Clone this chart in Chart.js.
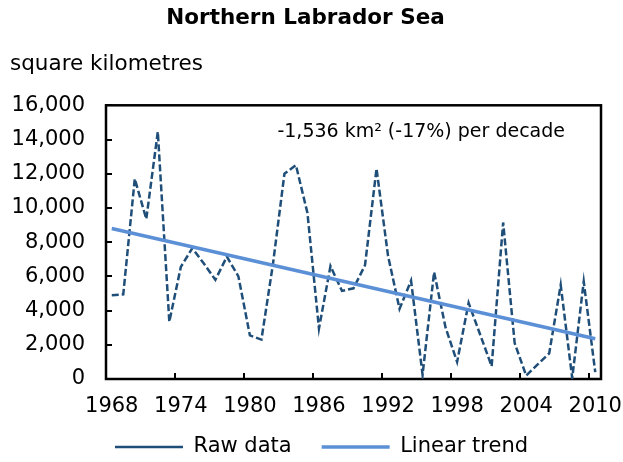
<!DOCTYPE html>
<html>
<head>
<meta charset="utf-8">
<title>Northern Labrador Sea</title>
<script src="https://cdn.jsdelivr.net/npm/chart.js@4/dist/chart.umd.min.js"></script>
<style>
  body { margin: 0; background: #fff; }
  #chart { display: block; }
</style>
</head>
<body>
<canvas id="chart" width="623" height="462"></canvas>
<script>
// valeurs
const years = [1968, 1969, 1970, 1971, 1972, 1973, 1974, 1975, 1976, 1977,
  1978, 1979, 1980, 1981, 1982, 1983, 1984, 1985, 1986, 1987,
  1988, 1989, 1990, 1991, 1992, 1993, 1994, 1995, 1996, 1997,
  1998, 1999, 2000, 2001, 2002, 2003, 2004, 2005, 2006, 2007,
  2008, 2009, 2010];
const rawData = [4900, 4950, 11700, 9350, 14450, 3350, 6550, 7650, 6750, 5800,
  7150, 6000, 2550, 2300, 6700, 12000, 12500, 9700, 2950, 6600,
  5150, 5300, 6650, 12300, 7200, 4100, 5750, 250, 6250, 3000,
  1000, 4450, 2600, 750, 9150, 2100, 200, 850, 1500, 5500,
  50, 5700, 400];
const trendStart = 8800;   // 1968
const trendEnd = 2350;     // 2010
const yMin = 0, yMax = 16000, yStep = 2000;
const labelEvery = 6;

const chartTitle = 'Northern Labrador Sea';
const unitLabel = 'square kilometres';
const trendNote = '-1,536 km² (-17%) per decade';

const trendData = years.map((y, i) =>
  i === 0 ? trendStart : (i === years.length - 1 ? trendEnd : null));

Chart.defaults.font.family = '"DejaVu Sans", Verdana, sans-serif';
Chart.defaults.color = '#000';

// cadre noir autour de la zone du graphique
const framePlugin = {
  id: 'frame',
  beforeDatasetsDraw(chart) {
    const { ctx, chartArea: a } = chart;
    ctx.save();
    ctx.strokeStyle = '#000';
    ctx.lineWidth = 2.5;
    ctx.strokeRect(a.left, a.top, a.right - a.left, a.bottom - a.top);
    ctx.restore();
  }
};

// unité + note de tendance
const textPlugin = {
  id: 'texts',
  afterDraw(chart) {
    const { ctx, chartArea: a, scales } = chart;
    ctx.save();
    ctx.fillStyle = '#000';
    ctx.textBaseline = 'middle';
    ctx.textAlign = 'left';
    ctx.font = '21.5px "DejaVu Sans"';
    ctx.fillText(unitLabel, 10, 64);
    ctx.font = '19px "DejaVu Sans"';
    ctx.textAlign = 'right';
    ctx.fillText(trendNote, a.right - 36, scales.y.getPixelForValue(14450));
    ctx.restore();
  }
};

const chart = new Chart(document.getElementById('chart'), {
  type: 'line',
  data: {
    labels: years,
    datasets: [{
      label: 'Raw data',
      data: rawData,
      borderColor: '#1F4E79',
      backgroundColor: '#1F4E79',
      borderWidth: 2.5,
      borderDash: [7, 3],
      pointRadius: 0,
      tension: 0,
      order: 2
    }, {
      label: 'Linear trend',
      data: trendData,
      borderColor: '#5B8FD6',
      backgroundColor: '#5B8FD6',
      borderWidth: 3.5,
      pointRadius: 0,
      spanGaps: true,
      order: 1
    }]
  },
  options: {
    responsive: false,
    animation: false,
    layout: { padding: { left: 10, right: 22, top: 0, bottom: -5.5 } },
    plugins: {
      title: {
        display: true,
        text: chartTitle,
        font: { size: 21.5, weight: 'bold' },
        color: '#000',
        padding: { top: 5.5, bottom: 74 }
      },
      legend: {
        position: 'bottom',
        align: 'start',
        fullSize: false,
        labels: {
          font: { size: 21 },
          color: '#000',
          usePointStyle: true,
          pointStyle: 'line',
          pointStyleWidth: 68,
          padding: 9,
          sort: (a, b) => a.datasetIndex - b.datasetIndex,
          generateLabels: c => {
            const items = Chart.defaults.plugins.legend.labels.generateLabels(c);
            items.forEach(it => { if (it.datasetIndex === 0) it.text += '\u2002\u2002'; });
            return items;
          }
        }
      },
      tooltip: { enabled: false }
    },
    scales: {
      x: {
        type: 'category',
        offset: true,
        border: { display: false },
        grid: {
          offset: true,
          drawOnChartArea: false,
          tickLength: -6,
          lineWidth: 2,
          color: ctx => (ctx.index % labelEvery === 0 ? '#000' : 'rgba(0,0,0,0)')
        },
        ticks: {
          autoSkip: false,
          maxRotation: 0,
          padding: 0,
          font: { size: 21, lineHeight: '68px' },
          color: '#000',
          callback: (val, i) => (i % labelEvery === 0 ? String(years[i]) : '')
        },
        afterFit: s => { s.height = 48.5; }
      },
      y: {
        min: yMin,
        max: yMax,
        border: { display: false },
        grid: {
          drawOnChartArea: false,
          tickLength: -6,
          lineWidth: 2,
          color: '#000'
        },
        ticks: {
          stepSize: yStep,
          padding: 27,
          font: { size: 21 },
          color: '#000',
          callback: v => v.toLocaleString('en-US')
        },
        afterFit: s => { s.width = 96; }
      }
    }
  },
  plugins: [framePlugin, textPlugin]
});
</script>
</body>
</html>
